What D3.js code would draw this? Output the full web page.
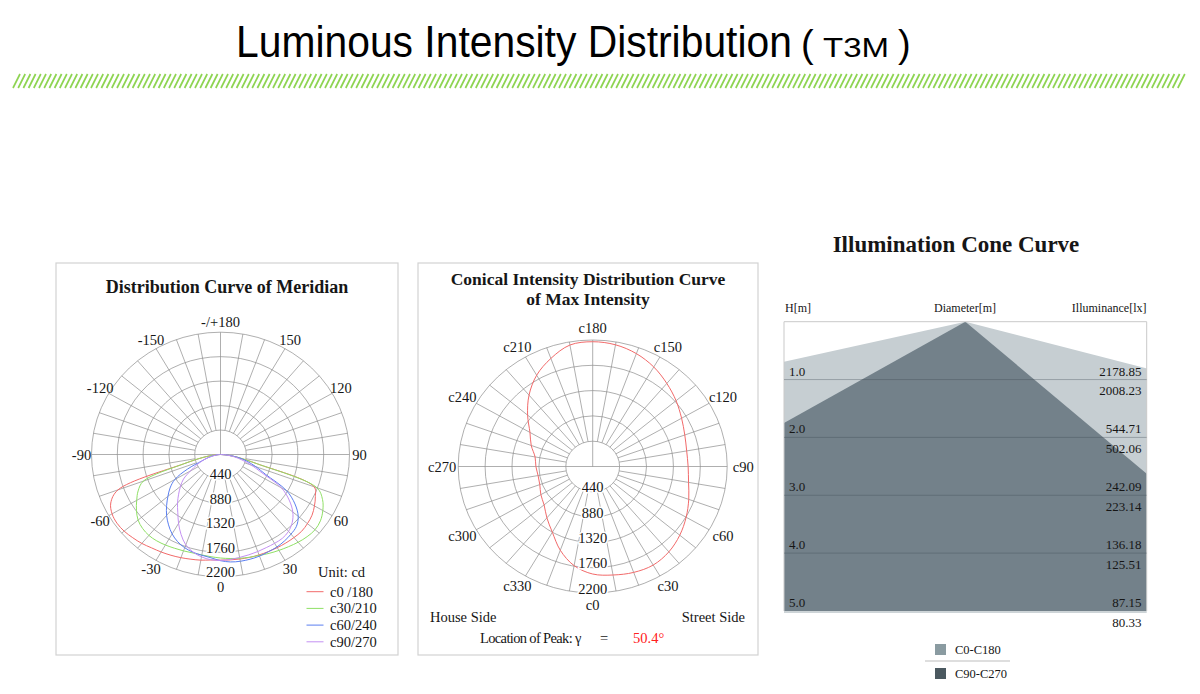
<!DOCTYPE html>
<html>
<head>
<meta charset="utf-8">
<script src="https://cdn.jsdelivr.net/npm/d3@7"></script>
<style>
body { margin: 0; background: #fff; }
text { font-family: "Liberation Serif", "Times New Roman", serif; fill: #161616; }
</style>
</head>
<body>
<script>
// ---- meridian curves (gamma in degrees, 0 = straight down, + = right) ----
var gammas = [-90,-85,-80,-75,-70,-65,-60,-55,-50,-45,-40,-35,-30,-25,-20,-15,-10,-5,0,
              5,10,15,20,25,30,35,40,45,50,55,60,65,70,75,80,85,90];
var c0_180  = [0,100,300,650,1860,2065,2135,2155,2145,2117,2088,2050,2025,2000,1975,1950,1930,1905,1900,
               1903,1909,1916,1922,1928,1935,1943,1950,1955,1935,1905,1850,1785,1700,650,300,100,0];
var c30_210 = [0,100,300,650,1400,1550,1650,1750,1835,1880,1900,1896,1880,1860,1845,1833,1835,1846,1862,
               1878,1895,1914,1932,1962,1992,2024,2060,2090,2105,2080,2015,1920,1750,650,300,100,0];
var c60_240 = [0,50,120,220,340,620,900,1050,1170,1300,1430,1545,1650,1730,1785,1820,1840,1865,1910,
               1940,1950,1950,1945,1930,1922,1900,1870,1830,1730,1550,1300,850,640,470,300,130,0];
var c90_270 = [0,50,120,220,330,450,590,770,890,1010,1140,1270,1430,1590,1730,1815,1870,1900,1905,
               1895,1880,1868,1858,1848,1845,1840,1805,1730,1610,1430,1200,780,560,380,240,100,0];
var meridianNames  = ["c0 /180", "c30/210", "c60/240", "c90/270"];
var meridianColors = ["#f26a6a", "#8fe065", "#5b7ff0", "#c491f2"];

var ringValues = [440, 880, 1320, 1760, 2200];
var meridianTicks  = [0, 30, 60, 90, 120, 150, 180, -150, -120, -90, -60, -30];
var meridianLabels = ["0","30","60","90","120","150","-/+180","-150","-120","-90","-60","-30"];

// ---- conical curve at the peak gamma (C angle, 0 = down, 90 = right) ----
var cAngles = [0,10,20,30,40,50,60,70,80,90,100,110,120,130,140,150,160,170,
               180,190,200,210,220,230,240,250,260,270,280,290,300,310,320,330,340,350];
var maxIntensity = [1870,1916,1960,1979,1938,1859,1765,1672,1592,1561,1561,1603,1679,1780,1886,1998,2089,2149,
                    2170,2145,2000,1833,1620,1390,1185,1070,957,929,907,921,979,1038,1166,1320,1550,1751];
var conicTicks  = [0,30,60,90,120,150,180,210,240,270,300,330];
var conicLabels = ["c0","c30","c60","c90","c120","c150","c180","c210","c240","c270","c300","c330"];
var peakGamma = "50.4°";

// ---- illumination cone ----
var heights = [1, 2, 3, 4, 5];
var heightLabels = ["1.0", "2.0", "3.0", "4.0", "5.0"];
var illumC0  = ["2178.85", "544.71", "242.09", "136.18", "87.15"];
var illumC90 = ["2008.23", "502.06", "223.14", "125.51", "80.33"];
var coneC0  = [-4.53, 3.89];   // half width at 1 m height, left / right
var coneC90 = [-1.795, 1.196];
var coneNames  = ["C0-C180", "C90-C270"];
var coneColors = ["#c6ced2", "#73818a"];
var coneLegendColors = ["#8a9ba1", "#4b5960"];

var svg = d3.select("body").append("svg").attr("width", 1200).attr("height", 694);

// page title (the original lettering is a little condensed)
var tfont = "'Liberation Sans', Arial, sans-serif";
var tmain = svg.append("text").attr("x", 0).attr("y", 0)
  .attr("transform", "translate(236,57) scale(1,1)")
  .style("font-family", tfont).style("font-size", "44px").style("fill", "#000")
  .text("Luminous Intensity Distribution");
var tw = tmain.node().getComputedTextLength();
tmain.attr("transform", "translate(236,57) scale(" + (556 / tw) + ",1)");
svg.append("text").attr("x", 801).attr("y", 57)
  .style("font-family", tfont).style("font-size", "38px").style("fill", "#000").text("(");
var t3 = svg.append("text").attr("x", 0).attr("y", 0)
  .style("font-family", tfont).style("font-size", "28px").style("fill", "#000").text("T3M");
t3.attr("transform", "translate(823,57) scale(" + (66 / t3.node().getComputedTextLength()) + ",1)");
svg.append("text").attr("x", 898).attr("y", 57)
  .style("font-family", tfont).style("font-size", "38px").style("fill", "#000").text(")");

// green hatch band
svg.append("g").selectAll("line").data(d3.range(13, 1180, 5.2)).enter().append("line")
  .attr("x1", d => d).attr("y1", 88).attr("x2", d => d + 7).attr("y2", 74)
  .attr("stroke", "#8ed452").attr("stroke-width", 1.7);

// panel frames
[[56, 263, 342, 392], [418, 263, 340, 392]].forEach(function(b) {
  svg.append("rect").attr("x", b[0]).attr("y", b[1]).attr("width", b[2]).attr("height", b[3])
    .attr("fill", "none").attr("stroke", "#d2d2d2").attr("stroke-width", 1.2);
});

function polarChart(o) {
  var g = svg.append("g");
  var r = d3.scaleLinear().domain([0, 2200]).range([0, 1]);
  var rad = Math.PI / 180;
  function px(a, v) { return o.cx + r(v) * o.rx * Math.sin(a * rad); }
  function py(a, v) { return o.cy + r(v) * o.ry * Math.cos(a * rad); }

  g.selectAll(".ring").data(ringValues).enter().append("ellipse")
    .attr("cx", o.cx).attr("cy", o.cy)
    .attr("rx", d => r(d) * o.rx).attr("ry", d => r(d) * o.ry)
    .attr("fill", "none").attr("stroke", "#8c8c8c").attr("stroke-width", 0.7);

  var spokes = d3.range(10, 360, 10);
  g.selectAll(".spoke").data(spokes).enter().append("line")
    .attr("x1", d => px(d, 440)).attr("y1", d => py(d, 440))
    .attr("x2", d => px(d, 2200)).attr("y2", d => py(d, 2200))
    .attr("stroke", "#8c8c8c").attr("stroke-width", 0.7);
  // inner cross
  g.append("line").attr("x1", px(-90, 440)).attr("y1", o.cy).attr("x2", px(90, 440)).attr("y2", o.cy)
    .attr("stroke", "#8c8c8c").attr("stroke-width", 0.7);
  g.append("line").attr("x1", o.cx).attr("y1", o.cy).attr("x2", o.cx).attr("y2", py(180, 440))
    .attr("stroke", "#8c8c8c").attr("stroke-width", 0.7);

  o.series.forEach(function(s) {
    var line = d3.line().x(d => px(d[0], d[1])).y(d => py(d[0], d[1]))
      .curve(o.closed ? d3.curveCatmullRomClosed : d3.curveCatmullRom);
    g.append("path").attr("d", line(s.angles.map((a, i) => [a, s.values[i]])))
      .attr("fill", "none").attr("stroke", s.color).attr("stroke-width", 1);
  });

  g.selectAll(".ringlabel").data(ringValues).enter().append("text")
    .attr("x", o.cx).attr("y", d => o.cy + r(d) * o.ry + 0.5)
    .attr("text-anchor", "middle").style("font-size", "14.5px")
    .attr("stroke", "#fff").attr("stroke-width", 3).attr("paint-order", "stroke")
    .text(d => d);

  g.selectAll(".anglelabel").data(o.ticks).enter().append("text")
    .attr("x", d => o.cx + (o.rx + o.offx) * Math.sin(d * rad))
    .attr("y", d => o.cy + (o.ry + o.offy) * Math.cos(d * rad))
    .attr("text-anchor", "middle").attr("dominant-baseline", "central")
    .style("font-size", "14.5px")
    .text((d, i) => o.labels[i]);
}

// left: meridian
svg.append("text").attr("x", 227).attr("y", 293).attr("text-anchor", "middle")
  .style("font-size", "18px").style("font-weight", "bold").text("Distribution Curve of  Meridian");

polarChart({
  cx: 220.5, cy: 454.5, rx: 129, ry: 122.3, offx: 10, offy: 10,
  ticks: meridianTicks, labels: meridianLabels, closed: false,
  series: [c0_180, c30_210, c60_240, c90_270].map((v, i) => ({ angles: gammas, values: v, color: meridianColors[i] }))
});

svg.append("text").attr("x", 318).attr("y", 577).style("font-size", "14.5px").text("Unit: cd");
var leg = svg.append("g").selectAll("g").data(meridianNames).enter().append("g")
  .attr("transform", (d, i) => "translate(0," + (591.7 + i * 16.7) + ")");
leg.append("line").attr("x1", 306.5).attr("x2", 323.5).attr("y1", 0).attr("y2", 0)
  .attr("stroke", (d, i) => meridianColors[i]).attr("stroke-width", 1);
leg.append("text").attr("x", 330).attr("y", 5).style("font-size", "14.5px").text(d => d);

// middle: conical
svg.append("text").attr("x", 588).attr("y", 284.5).attr("text-anchor", "middle")
  .style("font-size", "17.5px").style("font-weight", "bold").text("Conical Intensity Distribution Curve");
svg.append("text").attr("x", 588).attr("y", 304.5).attr("text-anchor", "middle")
  .style("font-size", "17.5px").style("font-weight", "bold").text("of  Max Intensity");

polarChart({
  cx: 592.7, cy: 466.5, rx: 134.5, ry: 126.5, offx: 16, offy: 12,
  ticks: conicTicks, labels: conicLabels, closed: true,
  series: [{ angles: cAngles, values: maxIntensity, color: "#f26a6a" }]
});

svg.append("text").attr("x", 430).attr("y", 622).style("font-size", "14.5px").text("House Side");
svg.append("text").attr("x", 745).attr("y", 622).attr("text-anchor", "end").style("font-size", "14.5px").text("Street Side");
svg.append("text").attr("x", 480).attr("y", 643).style("font-size", "14.5px")
  .style("letter-spacing", "-0.65px").text("Location of  Peak:");
svg.append("text").attr("x", 575).attr("y", 643).style("font-size", "14.5px").text("γ");
svg.append("text").attr("x", 600).attr("y", 643).style("font-size", "14.5px").text("=");
svg.append("text").attr("x", 633).attr("y", 643).style("font-size", "14.5px").style("fill", "#ff2020").text(peakGamma);

// right: illumination cone
var cg = svg.append("g");
var x = d3.scaleLinear().domain([-3.143, 3.143]).range([784, 1146.7]);
var y = d3.scaleLinear().domain([0, 5]).range([321.7, 611]);

cg.append("text").attr("x", 956).attr("y", 252).attr("text-anchor", "middle")
  .style("font-size", "23px").style("font-weight", "bold").text("Illumination Cone Curve");
cg.append("text").attr("x", 785).attr("y", 312).style("font-size", "12px").text("H[m]");
cg.append("text").attr("x", 965).attr("y", 312).attr("text-anchor", "middle").style("font-size", "12px").text("Diameter[m]");
cg.append("text").attr("x", 1146.5).attr("y", 312).attr("text-anchor", "end").style("font-size", "12px").text("Illuminance[lx]");

cg.append("clipPath").attr("id", "coneclip").append("rect")
  .attr("x", x(-3.143)).attr("y", y(0)).attr("width", x(3.143) - x(-3.143)).attr("height", y(5) - y(0));

var hMax = d3.max(heights);
[coneC0, coneC90].forEach(function(c, i) {
  var pts = [[0, 0], [c[0] * hMax, hMax], [c[1] * hMax, hMax]];
  cg.append("path").attr("clip-path", "url(#coneclip)")
    .attr("d", d3.line().x(d => x(d[0])).y(d => y(d[1]))(pts) + "Z")
    .attr("fill", coneColors[i]);
});

// frame
cg.append("path")
  .attr("d", "M" + x(-3.143) + "," + y(5) + "V" + y(0) + "H" + x(3.143) + "V" + y(5))
  .attr("fill", "none").attr("stroke", "#c9c9c9").attr("stroke-width", 1);
cg.append("line").attr("x1", x(-3.143)).attr("x2", x(3.143)).attr("y1", y(5) + 1).attr("y2", y(5) + 1)
  .attr("stroke", "#cdd4d7").attr("stroke-width", 2);

cg.selectAll(".hline").data(heights.slice(0, 4)).enter().append("line")
  .attr("x1", x(-3.143)).attr("x2", x(3.143)).attr("y1", d => y(d)).attr("y2", d => y(d))
  .attr("stroke", "rgba(60,75,82,0.35)").attr("stroke-width", 1);

cg.selectAll(".hlab").data(heights).enter().append("text")
  .attr("x", 789).attr("y", d => y(d) - 4).style("font-size", "13px")
  .text((d, i) => heightLabels[i]);
cg.selectAll(".ilab0").data(heights).enter().append("text")
  .attr("x", 1141.5).attr("y", d => y(d) - 4).attr("text-anchor", "end").style("font-size", "13px")
  .text((d, i) => illumC0[i]);
cg.selectAll(".ilab1").data(heights).enter().append("text")
  .attr("x", 1141.5).attr("y", d => y(d) + 15.5).attr("text-anchor", "end").style("font-size", "13px")
  .text((d, i) => illumC90[i]);

// legend
var cl = cg.selectAll(".cleg").data(coneNames).enter().append("g")
  .attr("transform", (d, i) => "translate(935," + (644 + i * 24) + ")");
cl.append("rect").attr("width", 11).attr("height", 11).attr("fill", (d, i) => coneLegendColors[i]);
cl.append("text").attr("x", 20).attr("y", 10).style("font-size", "12.5px").text(d => d);
cg.append("line").attr("x1", 925).attr("x2", 1010).attr("y1", 661).attr("y2", 661)
  .attr("stroke", "#bdbdbd").attr("stroke-width", 1);
</script>
</body>
</html>
